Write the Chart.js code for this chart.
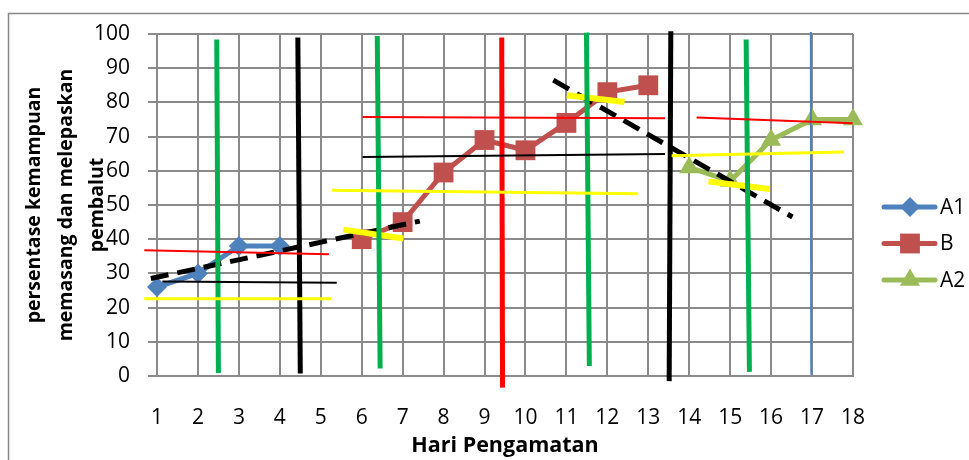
<!DOCTYPE html>
<html>
<head>
<meta charset="utf-8">
<script src="https://cdn.jsdelivr.net/npm/chart.js@4.4.1/dist/chart.umd.min.js"></script>
<style>
  html, body { margin: 0; padding: 0; background: #fff; }
  #wrap { width: 969px; height: 460px; position: relative; }
</style>
</head>
<body>
<div id="wrap"><canvas id="chart"></canvas></div>
<script>
// tick labels on the x axis (observation days)
const dayLabels = ['1', '2', '3', '4', '5', '6', '7', '8', '9', '10', '11', '12', '13', '14', '15', '16', '17', '18'];

// series
const a1Days = [1, 2, 3, 4];
const a1Values = [26, 30, 38, 38];
const bDays = [6, 7, 8, 9, 10, 11, 12, 13];
const bValues = [40, 45, 59.5, 69, 66, 74, 83, 85];
const a2Days = [14, 15, 16, 17, 18];
const a2Values = [61, 57, 69, 75, 75];

// hand drawn analysis lines, [x1, y1, x2, y2] in data units
const greenLines = [[2.46, 98.4, 2.5, 0.9], [6.38, 99.4, 6.45, 2.2], [11.49, 100.4, 11.56, 2.9], [15.39, 98.4, 15.47, 1.2]];
const blackBars = [[4.44, 99, 4.5, 0.7], [13.55, 100.8, 13.51, -1.5]];
const redBars = [[9.42, 99, 9.44, -3.4]];
const blueBars = [[16.97, 100.6, 16.98, 0.4]];
const redLevels = [[0.69, 36.8, 5.2, 35.6], [6.02, 75.7, 13.41, 75.4], [14.18, 75.6, 17.99, 73.9]];
const blackLevels = [[1.13, 27.6, 5.39, 27.3], [6.02, 64.0, 13.41, 64.9]];
const yellowLevels = [[0.69, 22.6, 5.25, 22.6], [5.28, 54.3, 12.75, 53.3], [13.57, 64.4, 17.78, 65.5]];
const yellowMarks = [[5.55, 42.8, 7.02, 40.2], [11.01, 82.1, 12.42, 80.1], [14.47, 56.9, 15.97, 54.7]];
const trendLines = [[0.85, 28.5, 7.42, 45.3], [10.68, 86.5, 16.52, 46.5]];

const FONT = "'Open Sans', 'Noto Sans', sans-serif";

function toPoints(xs, ys) {
    return xs.map((x, i) => ({ x: x, y: ys[i] }));
}

function series(label, xs, ys, color, pointStyle, radius) {
    return {
        label: label,
        data: toPoints(xs, ys),
        borderColor: color,
        backgroundColor: color,
        borderWidth: 5,
        pointStyle: pointStyle,
        pointRadius: radius,
        pointHoverRadius: radius,
        pointBorderWidth: 0,
        pointBackgroundColor: color,
        showLine: true,
        tension: 0,
        clip: false,
        order: 1,
        inLegend: true
    };
}

function segments(list, color, width, dash) {
    return list.map(s => ({
        label: '',
        data: [{ x: s[0], y: s[1] }, { x: s[2], y: s[3] }],
        borderColor: color,
        borderWidth: width,
        borderDash: dash || [],
        pointRadius: 0,
        pointHoverRadius: 0,
        showLine: true,
        clip: false,
        order: 0,
        inLegend: false
    }));
}

const datasets = [
    series('A1', a1Days, a1Values, '#4F81BD', 'rectRot', 10),
    series('B', bDays, bValues, '#C0504D', 'rect', 14),
    series('A2', a2Days, a2Values, '#9BBB59', 'triangle', 11.5),
    ...segments(yellowLevels, '#FFFF00', 3),
    ...segments(redLevels, '#FF0000', 2),
    ...segments(blackLevels, '#000000', 2),
    ...segments(greenLines, '#00B050', 5),
    ...segments(redBars, '#FF0000', 5),
    ...segments(blackBars, '#000000', 5),
    ...segments(blueBars, '#4F81BD', 2),
    ...segments(yellowMarks, '#FFFF00', 6),
    ...segments(trendLines, '#000000', 5, [18, 9])
];

// outer frame of the chart object
const framePlugin = {
    id: 'frame',
    beforeDraw(chart) {
        const ctx = chart.ctx;
        ctx.save();
        ctx.fillStyle = '#fff';
        ctx.fillRect(0, 0, chart.width, chart.height);
        ctx.strokeStyle = '#868686';
        ctx.lineWidth = 1.5;
        ctx.strokeRect(8.5, 13.5, chart.width + 20, chart.height + 20);
        ctx.restore();
    }
};

// excel style legend: line with the marker on it
const legendPlugin = {
    id: 'excelLegend',
    afterDraw(chart) {
        const ctx = chart.ctx;
        const items = chart.data.datasets.filter(d => d.inLegend);
        ctx.save();
        items.forEach((d, i) => {
            const y = 207 + i * 36.5;
            ctx.strokeStyle = d.borderColor;
            ctx.lineWidth = 5;
            ctx.lineCap = 'round';
            ctx.beginPath();
            ctx.moveTo(884, y);
            ctx.lineTo(935, y);
            ctx.stroke();
            ctx.fillStyle = d.borderColor;
            Chart.helpers.drawPoint(ctx, { pointStyle: d.pointStyle, radius: d.pointRadius, borderWidth: 0 }, 910, y);
            ctx.fillStyle = '#000';
            ctx.font = '21px ' + FONT;
            ctx.textAlign = 'left';
            ctx.textBaseline = 'middle';
            ctx.fillText(d.label, 940, y + 1);
        });
        ctx.restore();
    }
};

new Chart(document.getElementById('chart'), {
    type: 'scatter',
    data: { datasets: datasets },
    plugins: [framePlugin, legendPlugin],
    options: {
        responsive: true,
        maintainAspectRatio: false,
        animation: false,
        layout: { padding: { left: 8, top: 34, right: 116, bottom: 0 } },
        plugins: {
            legend: { display: false },
            tooltip: { enabled: false }
        },
        scales: {
            x: {
                type: 'linear',
                min: 1,
                max: 18,
                afterFit: (scale) => { scale.height = 84; },
                ticks: {
                    stepSize: 1,
                    color: '#000',
                    padding: 29,
                    font: { family: FONT, size: 21 },
                    callback: (v) => dayLabels[v - 1]
                },
                grid: { color: '#8a8a8a', lineWidth: 2, drawTicks: false },
                border: { color: '#8a8a8a', width: 2 },
                title: {
                    display: true,
                    text: 'Hari Pengamatan',
                    color: '#000',
                    font: { family: FONT, size: 21.5, weight: 'bold' },
                    padding: { top: 0, bottom: 1 }
                }
            },
            y: {
                min: 0,
                max: 100,
                afterFit: (scale) => { scale.width = 149; },
                ticks: {
                    stepSize: 10,
                    color: '#000',
                    padding: 18,
                    font: { family: FONT, size: 21 }
                },
                grid: { color: '#8a8a8a', lineWidth: 2, tickLength: 9 },
                border: { color: '#8a8a8a', width: 2 },
                title: {
                    display: true,
                    text: ['persentase kemampuan', 'memasang dan melepaskan', 'pembalut'],
                    color: '#000',
                    font: { family: FONT, size: 19.5, weight: 'bold', lineHeight: '31.5px' },
                    padding: { top: 11, bottom: 0 }
                }
            }
        }
    }
});
</script>
</body>
</html>
